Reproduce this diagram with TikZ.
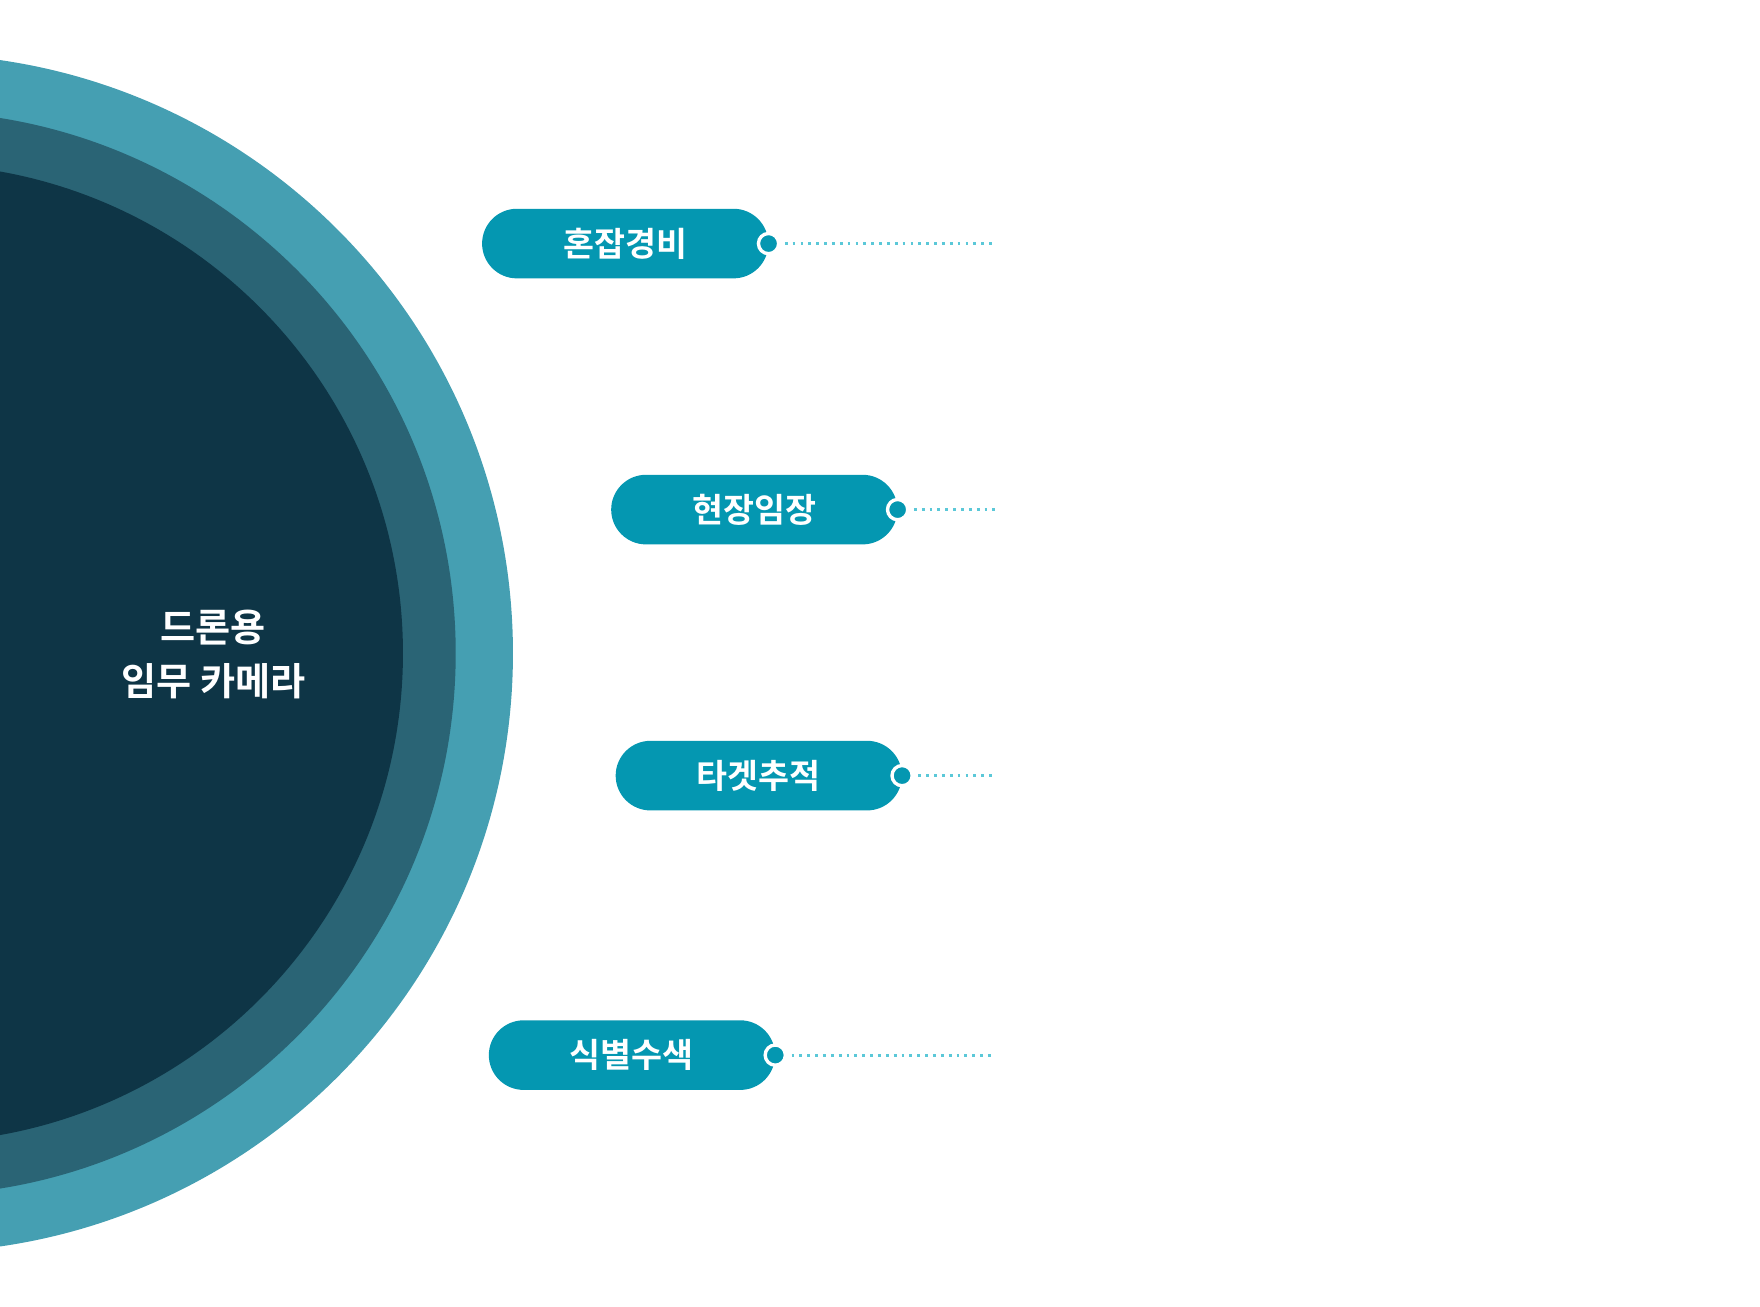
\documentclass[tikz,border=0pt]{standalone}
\usepackage{fontspec}
\newfontfamily\cjk{Noto Sans CJK KR}
\newfontfamily\cjkb{Noto Sans CJK KR Bold}
\usetikzlibrary{positioning}
\definecolor{ringout}{HTML}{459FB2}
\definecolor{ringmid}{HTML}{2A6475}
\definecolor{ringin}{HTML}{0E3546}
\definecolor{pillc}{HTML}{0497B1}
\definecolor{dotc}{HTML}{5BC8D8}
\tikzset{
  pill/.style={fill=pillc, rounded corners=31pt, minimum width=255pt, minimum height=62pt,
    text=white, font=\cjkb\fontsize{30}{30}\selectfont, inner sep=0pt},
  knob/.style={circle, fill=pillc, draw=white, line width=3pt, minimum size=18pt, inner sep=0pt},
  leader/.style={dotc, line width=2.5pt, dash pattern=on 2.5pt off 4.5pt}
}
\begin{document}
\begin{tikzpicture}[x=1pt,y=-1pt]
  \useasboundingbox (0,0) rectangle (1568,1164);
  % rings
  \begin{scope}
    \clip (0,0) rectangle (1568,1164);
    \fill[ringout] (-77,582) circle (534);
    \fill[ringmid] (-77,582) circle (483);
    \fill[ringin] (-77,582) circle (436);
  \end{scope}
  \node[text=white, font=\cjkb\fontsize{34}{48}\selectfont, align=center] (core) at (190,583) {드론용\\임무 카메라};
  % items
  \foreach \n/\x/\y/\t in {a/557/217/혼잡경비, b/672/454/현장임장, c/676/691/타겟추적, d/563/940/식별수색}{
    \node[pill] (\n) at (\x,\y) {\t};
    \node[knob] (\n k) at (\n.east) {};
    \coordinate (\n e) at (887,\y);
    \draw[leader] (\n k.east) ++(4,0) -- (\n e);
  }
\end{tikzpicture}
\end{document}
